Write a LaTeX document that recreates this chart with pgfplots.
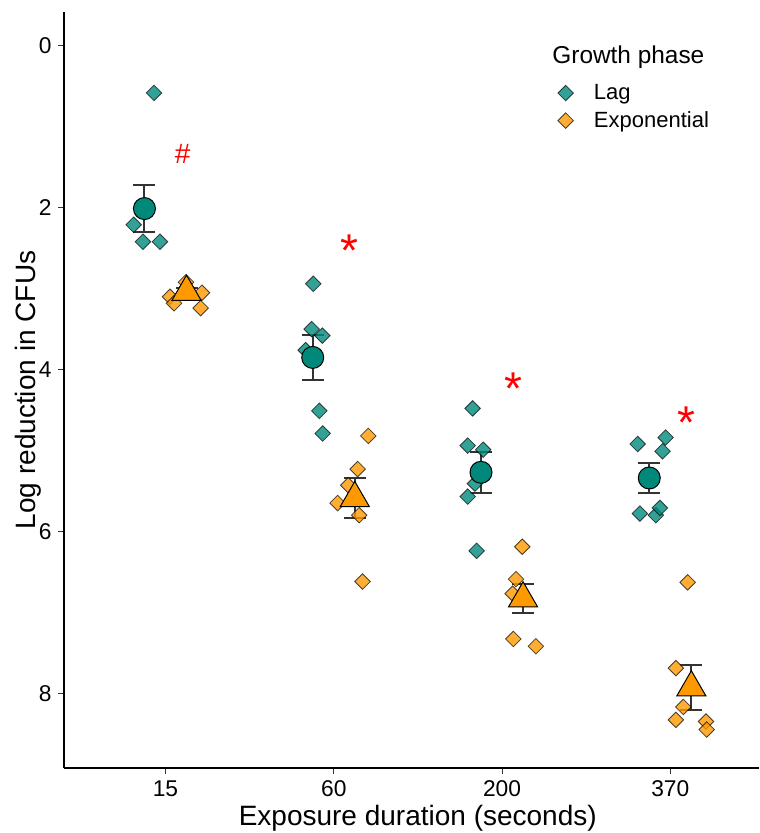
\documentclass[border=0pt]{standalone}
\usepackage{fontspec}
\setmainfont{Liberation Sans}
\usepackage{pgfplots}
\pgfplotsset{compat=1.18}
\definecolor{lagcol}{HTML}{00897B}
\definecolor{expcol}{HTML}{FF9900}
\definecolor{barcol}{HTML}{333333}
\begin{document}
\begin{tikzpicture}
\begin{axis}[
  width=347.5pt, height=378pt, scale only axis,
  xmin=0.397, xmax=4.527,
  ymin=-0.42, ymax=8.925, y dir=reverse,
  axis x line=bottom, axis y line=left,
  axis line style={-, line width=0.6pt, black},
  xtick={1,2,3,4}, xticklabels={15,60,200,370},
  ytick={0,2,4,6,8},
  tick align=outside, major tick length=2.75pt,
  tick style={barcol, line width=0.5pt},
  /pgf/number format/assume math mode=true,
  ticklabel style={font=\fontsize{11.4}{14}\selectfont},
  xlabel={Exposure duration (seconds)},
  ylabel={Log reduction in CFUs},
  label style={font=\fontsize{14}{16}\selectfont},
  xlabel style={at={(axis description cs:0.509,-0.0754)}, anchor=base},
  ylabel style={at={(axis description cs:-0.0417,0.5)}, anchor=base},
  legend style={draw=none, fill=none, at={(axis description cs:0.7014,0.8743)}, anchor=west,
    font=\fontsize{11}{13}\selectfont, row sep=0.5pt,
    /tikz/every odd column/.style={column sep=8.25pt}},
  legend cell align=left,
  legend image code/.code={\draw[#1] plot coordinates {(0pt,0pt)};},
]
\coordinate (O) at (rel axis cs:0,0);

% individual replicates, Lag phase
\addplot[only marks, mark=square*, mark size=2.75pt,
  mark options={rotate=45, fill=lagcol, fill opacity=0.8, draw=black, draw opacity=0.7, line width=0.4pt}]
  coordinates {
  (0.932,0.58) (0.811,2.21) (0.866,2.42) (0.967,2.42)
  (1.878,2.94) (1.869,3.50) (1.932,3.58) (1.833,3.76) (1.914,4.51) (1.934,4.79)
  (2.825,4.48) (2.796,4.94) (2.888,4.99) (2.839,5.41) (2.796,5.57) (2.849,6.24)
  (3.806,4.92) (3.972,4.84) (3.954,5.01) (3.819,5.78) (3.914,5.80) (3.938,5.71)
  };
\addlegendentry{Lag}

% individual replicates, Exponential phase
\addplot[only marks, mark=square*, mark size=2.75pt,
  mark options={rotate=45, fill=expcol, fill opacity=0.8, draw=black, draw opacity=0.7, line width=0.4pt}]
  coordinates {
  (1.027,3.10) (1.122,2.92) (1.217,3.05) (1.209,3.24) (1.051,3.18)
  (2.205,4.82) (2.142,5.23) (2.086,5.43) (2.023,5.65) (2.151,5.80) (2.171,6.62)
  (3.120,6.19) (3.083,6.59) (3.063,6.77) (3.067,7.33) (3.201,7.42)
  (4.103,6.63) (4.033,7.69) (4.077,8.17) (4.033,8.33) (4.212,8.35) (4.216,8.45)
  };
\addlegendentry{Exponential}

% standard error bars
\addplot[only marks, mark=none, forget plot,
  error bars/.cd, y dir=both, y explicit, error mark=|,
  error bar style={barcol, line width=1pt},
  error mark options={barcol, line width=1pt, mark size=5.5pt}]
  coordinates {
  (0.875,2.01) +- (0,0.29)
  (1.875,3.85) +- (0,0.28)
  (2.875,5.27) +- (0,0.25)
  (3.875,5.34) +- (0,0.19)
  (1.125,3.04) +- (0,0.05)
  (2.125,5.59) +- (0,0.25)
  (3.125,6.83) +- (0,0.18)
  (4.125,7.93) +- (0,0.28)
  };

% group means
\addplot[only marks, forget plot, mark=*, mark size=5.5pt,
  mark options={fill=lagcol, draw=black, line width=0.5pt}]
  coordinates {(0.875,2.01) (1.875,3.85) (2.875,5.27) (3.875,5.34)};
\addplot[only marks, forget plot, mark=triangle*, mark size=8.4pt,
  mark options={fill=expcol, draw=black, line width=0.5pt}]
  coordinates {(1.125,3.04) (2.125,5.59) (3.125,6.83) (4.125,7.93)};

% significance markers
\node[text=red, font=\fontsize{14}{16}\selectfont, anchor=base, yshift=-4.9pt] at (axis cs:1.102,1.33) {\#};
\node[text=red, font=\fontsize{23}{26}\selectfont, anchor=base, yshift=-13.7pt] at (axis cs:2.096,2.39) {*};
\node[text=red, font=\fontsize{23}{26}\selectfont, anchor=base, yshift=-13.7pt] at (axis cs:3.067,4.09) {*};
\node[text=red, font=\fontsize{23}{26}\selectfont, anchor=base, yshift=-13.7pt] at (axis cs:4.097,4.51) {*};

% legend heading
\node[anchor=west, font=\fontsize{12.2}{14}\selectfont, inner sep=0pt] at (axis cs:3.297,0.136) {Growth phase};
\end{axis}
\pgfresetboundingbox
\path[use as bounding box] (O) ++(-32pt,-32.5pt) rectangle ++(379.5pt,416.5pt);
\end{tikzpicture}
\end{document}
